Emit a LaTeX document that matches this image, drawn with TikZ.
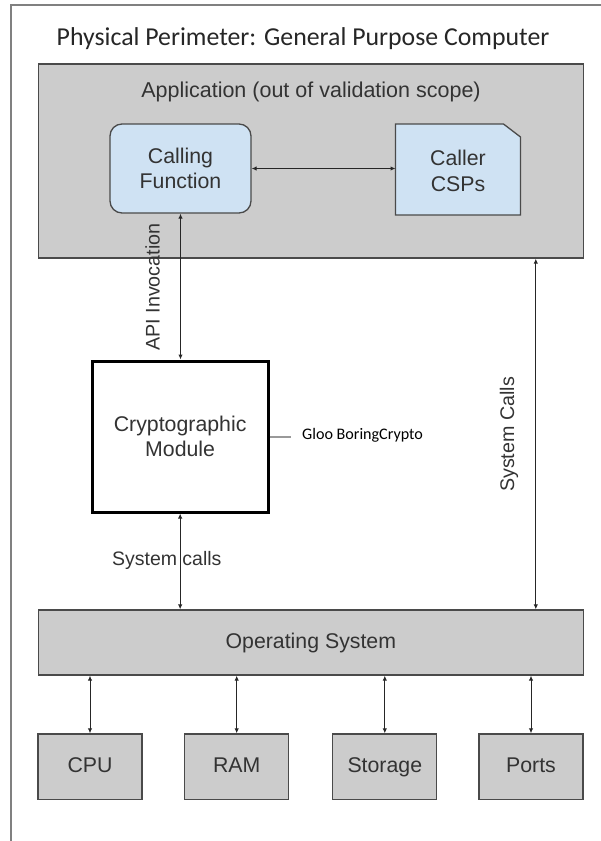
\documentclass[tikz,border=0pt]{standalone}
\usepackage{fontspec}
\setmainfont{Liberation Sans}
\newfontfamily\calibri{Carlito}
\usetikzlibrary{arrows.meta}

\definecolor{boxgray}{HTML}{CCCCCC}
\definecolor{callblue}{HTML}{CFE2F3}
\definecolor{edgegray}{HTML}{4A4A4A}
\definecolor{textgray}{HTML}{333333}

\tikzset{
    graybox/.style={draw=edgegray,line width=1.3pt,fill=boxgray,inner sep=0pt,
        text=textgray,align=center,font=\fontsize{21.3}{25.5}\selectfont},
    link/.style={draw=black!85,line width=1pt,
        {Latex[length=5pt,width=4.5pt]}-{Latex[length=5pt,width=4.5pt]}},
    sidelabel/.style={text=textgray,inner sep=0pt,font=\fontsize{19.7}{23}\selectfont},
}

\begin{document}
\begin{tikzpicture}[x=1pt,y=-1pt]
    \useasboundingbox (0,0) rectangle (601,841);

    % physical perimeter, cut off at the right and bottom
    \draw[gray,line width=1.5pt](11,860)--(11,5)--(620,5);
    \node (title) at (303,39) {\calibri\fontsize{25.8}{30}\selectfont\color{black!85}Physical Perimeter: General Purpose Computer};

    % application
    \node[graybox,minimum width=545.1pt,minimum height=194pt] (app) at (310.85,161) {};
    \node[text=textgray,font=\fontsize{21.5}{25}\selectfont] (applabel) at (311,92) {Application (out of validation scope)};
    \node[graybox,fill=callblue,rounded corners=12pt,minimum width=141pt,minimum height=89pt] (call) at (180.5,168.5) {Calling\\Function};

    \coordinate (cspSW) at (395.5,215);
    \coordinate (cspNE) at (520.5,124);
    \draw[draw=edgegray,line width=1.3pt,fill=callblue]
        (cspSW)--(cspSW -| cspNE)--([yshift=-13pt]cspNE)--([xshift=-17pt]cspNE)--(cspSW |- cspNE)--cycle;
    \node[text=textgray,align=center,font=\fontsize{21.3}{25.5}\selectfont] (csp) at (458,171) {Caller\\CSPs};

    % module
    \node[graybox,fill=white,draw=black,line width=3pt,minimum width=176.3pt,minimum height=151pt] (crypto) at (180.15,436.5) {Cryptographic\\Module};
    \node[anchor=west,inner sep=0pt] (gloo) at (302,435) {\calibri\fontsize{16.1}{19}\selectfont Gloo BoringCrypto};
    \draw[gray!80,line width=2pt](crypto.east)--([xshift=-11pt]gloo.west |- crypto.east);

    % operating system and hardware
    \node[graybox,minimum width=545.1pt,minimum height=65pt] (os) at (310.85,642.5) {Operating System};
    \foreach \n/\x/\t in {cpu/90/CPU,ram/236.7/RAM,storage/384.8/Storage,ports/531/Ports}
        \node[graybox,text height=16pt,text depth=4pt,minimum width=104pt,minimum height=65.3pt] (\n) at (\x,766.6) {\t};

    % connectors
    \draw[link](call.east)--(call.east -| cspSW);
    \draw[link](call.south)--(call.south |- crypto.north);
    \draw[link](crypto.south)--(crypto.south |- os.north);
    \coordinate (sysx) at (535.8,0);
    \draw[link](app.south -| sysx)--(os.north -| sysx);
    \foreach \n in {cpu,ram,storage,ports}
        \draw[link](\n.north |- os.south)--(\n.north);

    \node[sidelabel,rotate=90] (apilabel) at (152.5,287) {API Invocation};
    \node[sidelabel,font=\fontsize{19.5}{23}\selectfont] (modcalls) at (166.8,560) {System calls};
    \node[sidelabel,rotate=90] (appcalls) at (509,434.5) {System Calls};
\end{tikzpicture}
\end{document}
